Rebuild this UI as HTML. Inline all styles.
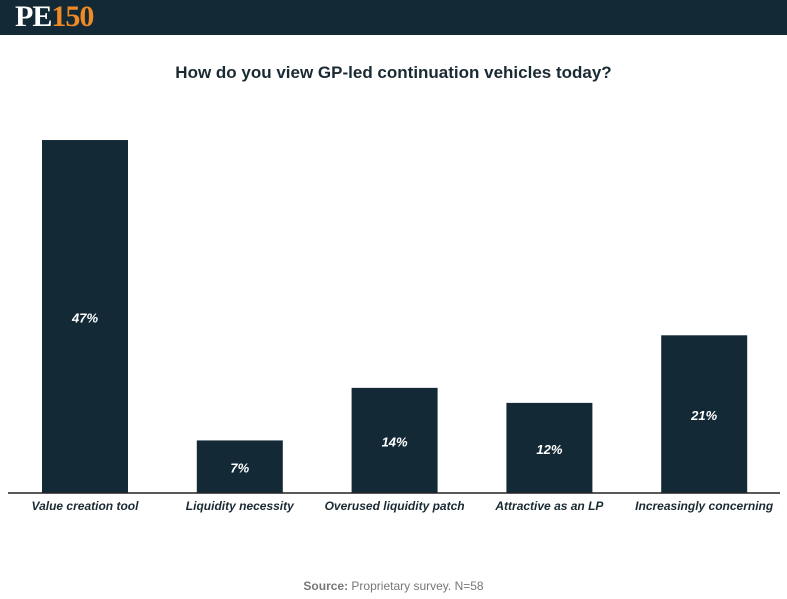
<!DOCTYPE html>
<html><head><meta charset="utf-8"><style>
body{margin:0;width:787px;height:599px;background:#fff;overflow:hidden;font-family:"Liberation Sans",sans-serif}
#hdr{position:absolute;left:0;top:0;width:787px;height:35px;background:#132a36}
#logo{position:absolute;left:15px;top:2px;font-family:"Liberation Serif",serif;font-weight:bold;font-size:30px;letter-spacing:-1px;line-height:30px}
#title{position:absolute;left:0;width:787px;top:63px;text-align:center;font-weight:bold;font-size:17px;color:#1a2a33}
#src{position:absolute;left:0;width:787px;top:579px;text-align:center;font-size:12px;color:#777}
</style></head><body>
<div id="hdr"><div id="logo"><span style="color:#fff">PE</span><span style="color:#f08a24">150</span></div></div>
<div id="title">How do you view GP-led continuation vehicles today?</div>
<svg id="chart" width="787" height="599" style="position:absolute;left:0;top:0"></svg>
<div id="src"><b>Source:</b> Proprietary survey. N=58</div>
<script>
const categories=["Value creation tool","Liquidity necessity","Overused liquidity patch","Attractive as an LP","Increasingly concerning"];
const values=[47,7,14,12,21];
const valueLabels=["47%","7%","14%","12%","21%"];
const svg=document.getElementById('chart');const NS='http://www.w3.org/2000/svg';
const baseY=493,pxPer=7.51,x0=42,step=154.8,bw=86;
function y(v){return baseY-v*pxPer;}
function x(i){return x0+i*step;}
categories.forEach((c,i)=>{
 const r=document.createElementNS(NS,'rect');
 
 
 r.setAttribute('x',x(i));r.setAttribute('y',y(values[i]));r.setAttribute('width',bw);r.setAttribute('height',baseY-y(values[i]));r.setAttribute('fill','#132a36');svg.appendChild(r);
 const t=document.createElementNS(NS,'text');
 
 
 t.setAttribute('x',x(i)+bw/2);t.setAttribute('y',(y(values[i])+baseY)/2+6);t.setAttribute('text-anchor','middle');t.setAttribute('fill','#fff');t.setAttribute('font-size','13');t.setAttribute('font-weight','bold');t.setAttribute('font-style','italic');t.textContent=valueLabels[i];svg.appendChild(t);
 const l=document.createElementNS(NS,'text');
 
 
 l.setAttribute('x',x(i)+bw/2);l.setAttribute('y',510);l.setAttribute('text-anchor','middle');l.setAttribute('fill','#1a2a33');l.setAttribute('font-size','12');l.setAttribute('font-weight','bold');l.setAttribute('font-style','italic');l.textContent=c;svg.appendChild(l);
});
const ax=document.createElementNS(NS,'line');


ax.setAttribute('x1',8);ax.setAttribute('x2',780);ax.setAttribute('y1',baseY);ax.setAttribute('y2',baseY);ax.setAttribute('stroke','#222');ax.setAttribute('stroke-width','1.5');svg.appendChild(ax);
</script>
</body></html>
